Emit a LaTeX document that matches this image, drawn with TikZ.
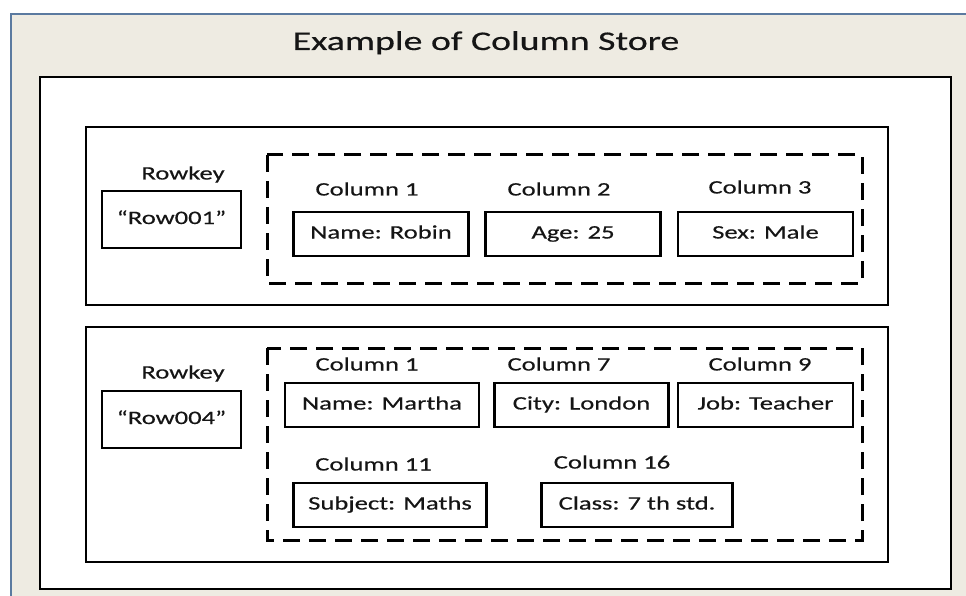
\documentclass[tikz,border=0pt]{standalone}
\usepackage{fontspec}
\setmainfont{Carlito}[FakeStretch=1.4, FakeBold=0.4]
\definecolor{paper}{HTML}{EEEBE2}
\definecolor{framec}{HTML}{5B7AA0}
\definecolor{ink}{HTML}{151515}
\begin{document}
\begin{tikzpicture}[x=1pt,y=-1pt,
  every node/.style={text=ink, font=\fontsize{19}{22}\selectfont},
  cell/.style={draw=black, line width=2.6pt, minimum height=44pt, inner sep=0pt,
    text height=13pt, text depth=4pt},
  keybox/.style={draw=black, line width=2.6pt, minimum width=139pt, minimum height=57pt,
    inner sep=0pt, text height=13pt, text depth=4pt},
  rowbox/.style={draw=black, line width=2.4pt},
  group/.style={draw=black, line width=3pt, dash pattern=on 17pt off 9pt},
  lbl/.style={inner sep=0pt, text height=13pt, text depth=4pt}]
\useasboundingbox (0,0) rectangle (966,596);
\fill[white] (0,0) rectangle (966,596);
% window frame and canvas
\draw[framec, fill=paper, line width=2.5pt] (11,14) rectangle (980,610);
\draw[black, fill=white, line width=2.6pt] (40,77) rectangle (951,589);
\node[lbl, font=\fontsize{27}{30}\selectfont, text height=18pt, text depth=6pt] (title) at (486,44) {Example of Column Store};

% ---- row 001 ----
\draw[rowbox] (86,127) rectangle (888,305);
\draw[group] (267,155) rectangle (862,283);
\node[lbl] (rk1l) at (183,175) {Rowkey};
\node[keybox] (rk1) at (171.5,219.5) {“Row001”};
\node[lbl] (c1l) at (367,191) {Column 1};
\node[lbl] (c2l) at (559,191) {Column 2};
\node[lbl] (c3l) at (760,189) {Column 3};
\node[cell, minimum width=175pt] (c1) at (381,234) {Name: Robin};
\node[cell, minimum width=175pt] (c2) at (573,234) {Age: 25};
\node[cell, minimum width=175pt] (c3) at (765.5,234) {Sex: Male};

% ---- row 004 ----
\draw[rowbox] (86,327) rectangle (888,562);
\draw[group] (267,348) rectangle (862,540);
\node[lbl] (rk2l) at (183,374) {Rowkey};
\node[keybox] (rk2) at (171.5,419.5) {“Row004”};
\node[lbl] (d1l) at (367,366) {Column 1};
\node[lbl] (d7l) at (559,366) {Column 7};
\node[lbl] (d9l) at (760,366) {Column 9};
\node[lbl] (d11l) at (373.5,466) {Column 11};
\node[lbl] (d16l) at (612,464) {Column 16};
\node[cell, minimum width=194pt] (d1) at (382,405) {Name: Martha};
\node[cell, minimum width=174pt] (d7) at (581.5,405) {City: London};
\node[cell, minimum width=175pt] (d9) at (765.5,405) {Job: Teacher};
\node[cell, minimum width=193pt] (d11) at (390,505) {Subject: Maths};
\node[cell, minimum width=191pt] (d16) at (637,505) {Class: 7 th std.};
\end{tikzpicture}
\end{document}
